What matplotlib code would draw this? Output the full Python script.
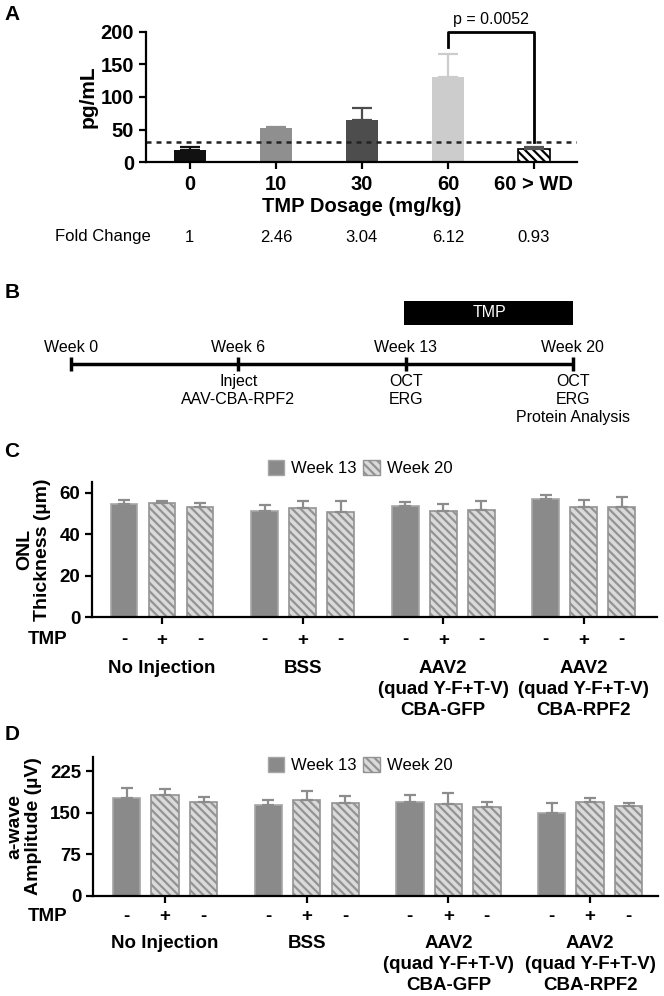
import matplotlib
matplotlib.use('Agg')
import matplotlib.pyplot as plt
from matplotlib import font_manager
from matplotlib.patches import Patch, Rectangle
from matplotlib.transforms import blended_transform_factory

# panel A: serum TMP levels
dose_labels = ['0', '10', '30', '60', '60 > WD']
dose_mean = [19, 53, 65, 131, 20]
dose_err = [4, 1, 18, 35, 3]
fold_change = ['1', '2.46', '3.04', '6.12', '0.93']
detect_limit = 31
p_text = 'p = 0.0052'

# panel B: timeline
weeks = ['Week 0', 'Week 6', 'Week 13', 'Week 20']
events = ['', 'Inject\nAAV-CBA-RPF2', 'OCT\nERG', 'OCT\nERG\nProtein Analysis']

# panels C and D
groups = ['No Injection', 'BSS',
          'AAV2\n(quad Y-F+T-V)\nCBA-GFP',
          'AAV2\n(quad Y-F+T-V)\nCBA-RPF2']
tmp_signs = ['-', '+', '-']
bar_week = ['Week 13', 'Week 20', 'Week 20']

onl_mean = [[54.4, 54.9, 53.1], [51.2, 52.8, 50.7],
            [53.7, 51.3, 51.7], [56.8, 53.3, 53.0]]
onl_err = [[2.1, 1.1, 2.1], [2.7, 3.2, 5.3],
           [1.7, 3.1, 4.3], [2.1, 3.0, 4.9]]

awave_mean = [[176.8, 181.0, 169.6], [164.2, 172.0, 167.2],
              [169.6, 166.0, 160.5], [148.6, 169.0, 161.8]]
awave_err = [[16.9, 11.5, 7.9], [7.8, 16.9, 13.2],
             [12.0, 19.3, 8.5], [18.6, 7.2, 5.9]]

names = {f.name for f in font_manager.fontManager.ttflist}
narrow = 'Liberation Sans Narrow' if 'Liberation Sans Narrow' in names else 'Liberation Sans'
plt.rcParams['font.family'] = [narrow, 'DejaVu Sans']
plt.rcParams['hatch.linewidth'] = 1.6

W, H = 664, 996
fig = plt.figure(figsize=(W / 100, H / 100), dpi=100)


def add_ax(x0, y0, x1, y1):
    return fig.add_axes([x0 / W, 1 - y1 / H, (x1 - x0) / W, (y1 - y0) / H])


def fy(y):
    return 1 - y / H


def style_axes(ax, size):
    for s in ['top', 'right']:
        ax.spines[s].set_visible(False)
    for s in ['left', 'bottom']:
        ax.spines[s].set_linewidth(1.6)
    ax.tick_params(width=1.6, length=5, labelsize=size)
    for lab in ax.get_yticklabels():
        lab.set_fontweight('bold')


# panel letters
for letter, y in [('A', 14), ('B', 292), ('C', 451), ('D', 734)]:
    fig.text(12 / W, fy(y), letter, fontsize=15, fontweight='bold',
             family='Liberation Sans', ha='center', va='center')

# ---------------- A ----------------
axA = add_ax(146, 31.7, 577, 162.3)
barA_colors = ['#111111', '#8f8f8f', '#4d4d4d', '#cccccc', 'white']
errA_colors = ['#111111', '#8f8f8f', '#4d4d4d', '#cccccc', '#555555']
for i in range(len(dose_labels)):
    if i == 4:
        axA.bar(i, dose_mean[i], width=0.37, color='white', edgecolor='black',
                hatch='\\\\\\\\', linewidth=1.2)
    else:
        axA.bar(i, dose_mean[i], width=0.37, color=barA_colors[i])
    axA.errorbar(i, dose_mean[i], yerr=[[0], [dose_err[i]]], fmt='none',
                 ecolor=errA_colors[i], elinewidth=1.6, capsize=7, capthick=1.6)
axA.axhline(detect_limit, color='#222222', ls=(0, (2, 2)), lw=1.8)
axA.plot([3, 3, 4, 4], [177, 200, 200, 31], color='black', lw=2, clip_on=False)
axA.text(3.5, 219, p_text, ha='center', va='center', fontsize=11.5, clip_on=False)
axA.set_xlim(-0.51, 4.5)
axA.set_ylim(0, 200)
axA.set_yticks([0, 50, 100, 150, 200])
axA.set_xticks(range(len(dose_labels)))
axA.set_xticklabels(dose_labels, fontweight='bold')
style_axes(axA, 14.5)
axA.tick_params(axis='x', pad=4)
axA.set_ylabel('pg/mL', fontsize=15, fontweight='bold')
axA.yaxis.set_label_coords(-0.112, 0.5)
fig.text(axA.get_position().x0 + axA.get_position().width / 2, fy(206),
         'TMP Dosage (mg/kg)', ha='center', va='center', fontsize=14.5, fontweight='bold')
trA = blended_transform_factory(axA.transData, fig.transFigure)
fig.text(55 / W, fy(237), 'Fold Change', ha='left', va='center', fontsize=12)
for i, fc in enumerate(fold_change):
    axA.text(i, fy(237), fc, transform=trA, ha='center', va='center', fontsize=12)

# ---------------- B ----------------
axB = add_ax(0, 280, W, 430)
axB.axis('off')
step = 167.3
axB.set_xlim(-71 / step, (W - 71) / step)
axB.set_ylim(430, 280)
axB.plot([0, len(weeks) - 1], [364, 364], color='black', lw=2.5, solid_capstyle='butt')
for i, w in enumerate(weeks):
    axB.plot([i, i], [356.5, 371], color='black', lw=2.5, solid_capstyle='butt')
    axB.text(i, 347, w, ha='center', va='center', fontsize=11.5)
    if events[i]:
        axB.text(i, 374, events[i], ha='center', va='top', fontsize=11.5, linespacing=1.25)
axB.add_patch(Rectangle((1.99, 301), 1.01, 23.5, facecolor='black', edgecolor='none'))
axB.text(2.5, 312.5, 'TMP', color='white', ha='center', va='center', fontsize=11.5)


# ---------------- C / D ----------------
def group_panel(rect, x0px, unit, gstep, means, errs, ylim, yticks, ylabel,
                label_x, y_tmp, y_group, y_leg):
    ax = add_ax(*rect)
    left, right = rect[0], rect[2]
    ax.set_xlim((left - x0px) / unit, (right - x0px) / unit)
    ax.set_ylim(0, ylim)
    for g in range(len(groups)):
        for j in range(3):
            x = g * gstep + (j - 1)
            if bar_week[j] == 'Week 13':
                ax.bar(x, means[g][j], width=0.71, color='#8a8a8a',
                       edgecolor='#a6a6a6', linewidth=1.2)
            else:
                ax.bar(x, means[g][j], width=0.71, color='#dadada',
                       edgecolor='#939393', hatch='\\\\\\\\', linewidth=1.2)
            ax.errorbar(x, means[g][j], yerr=[[0], [errs[g][j]]], fmt='none',
                        ecolor='#8c8c8c', elinewidth=1.6, capsize=4.3, capthick=1.6)
    ax.set_yticks(yticks)
    ax.set_xticks([g * gstep for g in range(len(groups))])
    ax.set_xticklabels([])
    style_axes(ax, 13.5)
    ax.set_ylabel(ylabel, fontsize=14, fontweight='bold', linespacing=1.1)
    ax.yaxis.set_label_coords(label_x, 0.5)
    tr = blended_transform_factory(ax.transData, fig.transFigure)
    fig.text(48 / W, fy(y_tmp), 'TMP', ha='center', va='center',
             fontsize=13.5, fontweight='bold')
    for g in range(len(groups)):
        for j in range(3):
            ax.text(g * gstep + (j - 1), fy(y_tmp), tmp_signs[j], transform=tr,
                    ha='center', va='center', fontsize=13.5, fontweight='bold')
        ax.text(g * gstep, fy(y_group), groups[g], transform=tr, ha='center',
                va='top', fontsize=13.5, fontweight='bold', linespacing=1.3)
    handles = [Patch(facecolor='#8a8a8a', edgecolor='#a6a6a6', label='Week 13'),
               Patch(facecolor='#dadada', edgecolor='#939393', hatch='\\\\\\\\',
                     label='Week 20')]
    fig.legend(handles=handles, loc='center', bbox_to_anchor=(360 / W, fy(y_leg)),
               ncol=2, frameon=False, fontsize=12, handlelength=1.0,
               handleheight=1.0, handletextpad=0.4, columnspacing=0.4)
    return ax


group_panel((92, 482.3, 657, 617.2), 162, 38, 3.7, onl_mean, onl_err, 65,
            [0, 20, 40, 60], 'ONL\nThickness (µm)', -0.072, 640, 660, 468)
group_panel((93, 757.2, 658, 895.5), 165, 38.5, 3.68, awave_mean, awave_err, 250,
            [0, 75, 150, 225], 'a-wave\nAmplitude (µV)', -0.09, 916, 935, 765)

fig.savefig('out.png', dpi=100)
